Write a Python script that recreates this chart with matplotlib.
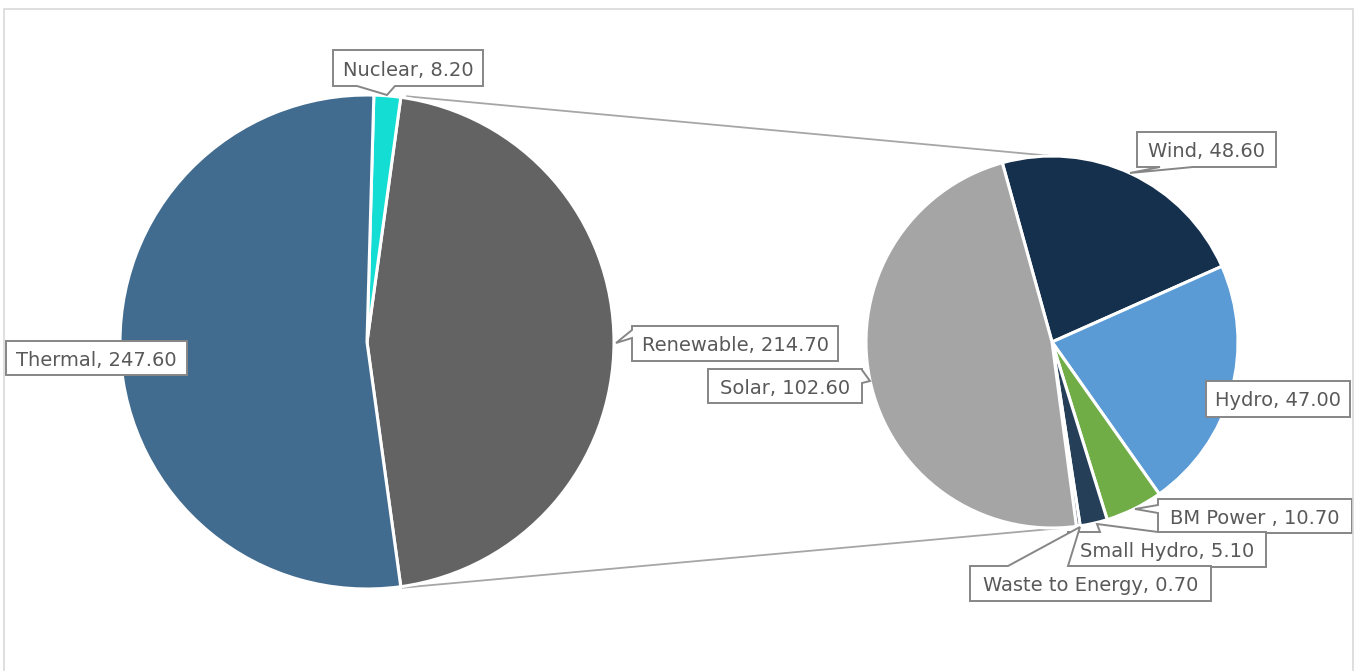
import matplotlib
matplotlib.use("Agg")
import matplotlib.pyplot as plt
from matplotlib.patches import Polygon, Rectangle
import numpy as np

# ---------------- data ----------------
main_categories = ["Thermal", "Nuclear", "Renewable"]
main_values = [247.60, 8.20, 214.70]
sub_categories = ["Wind", "Hydro", "BM Power ", "Small Hydro", "Waste to Energy", "Solar"]
sub_values = [48.60, 47.00, 10.70, 5.10, 0.70, 102.60]

main_colors = ["#426C8F", "#14DDD4", "#636363"]
sub_colors = ["#15304D", "#5B9BD5", "#70AD47", "#253F59", "#44546A", "#A5A5A5"]

W, H = 1357, 671
fig = plt.figure(figsize=(W / 100, H / 100), dpi=100)
ax = fig.add_axes([0, 0, 1, 1])

# geometry (pixel space, y up)
L_CX, L_CY, L_R = 367, H - 342, 247
R_CX, R_CY, R_R = 1052, H - 342, 186

# left pie: "other" slice (Renewable) centred at 3 o'clock
tot = sum(main_values)
ren_span = main_values[2] / tot * 360
order = [2, 1, 0]
ax.pie([main_values[i] for i in order], colors=[main_colors[i] for i in order],
       startangle=-ren_span / 2, counterclock=True, radius=L_R, center=(L_CX, L_CY),
       wedgeprops=dict(edgecolor="white", linewidth=2.2), frame=True)

ax.pie(sub_values, colors=sub_colors, startangle=105.5, counterclock=False,
       radius=R_R, center=(R_CX, R_CY),
       wedgeprops=dict(edgecolor="white", linewidth=2.2), frame=True)

# connector lines
a = np.deg2rad(ren_span / 2)
top_l = (L_CX + L_R * np.cos(a) + 6, L_CY + L_R * np.sin(a) + 1)
bot_l = (L_CX + L_R * np.cos(a) + 2, L_CY - L_R * np.sin(a) - 1)
ax.plot([top_l[0], R_CX], [top_l[1], R_CY + R_R], color="#A6A6A6", lw=1.3, zorder=0.5)
ax.plot([bot_l[0], R_CX + 10], [bot_l[1], R_CY - R_R], color="#A6A6A6", lw=1.3, zorder=0.5)

ax.set_xlim(0, W)
ax.set_ylim(0, H)
ax.set_aspect("equal")
ax.axis("off")

# frame
fig.patches.append(Rectangle((4 / W, -0.1), 1349 / W, (H - 9) / H + 0.1,
                             transform=fig.transFigure, fill=False,
                             edgecolor="#D9D9D9", lw=1.2))


def callout(box, side=None, base=None, tip=None):
    x0, y0, x1, y1 = box
    TL, TR, BR, BL = (x0, y0), (x1, y0), (x1, y1), (x0, y1)
    if side == "top":
        pts = [TL, (base[0], y0), tip, (base[1], y0), TR, BR, BL]
    elif side == "right":
        pts = [TL, TR, (x1, base[0]), tip, (x1, base[1]), BR, BL]
    elif side == "bottom":
        pts = [TL, TR, BR, (base[1], y1), tip, (base[0], y1), BL]
    elif side == "left":
        pts = [TL, TR, BR, BL, (x0, base[1]), tip, (x0, base[0])]
    else:
        pts = [TL, TR, BR, BL]
    pts = [(px, H - py) for px, py in pts]
    return Polygon(pts, closed=True, facecolor="white", edgecolor="#868686",
                   lw=1.4, joinstyle="miter", zorder=5)


labels = [
    (f"{main_categories[1]}, {main_values[1]:.2f}", (333, 50, 483, 86), "bottom", (357, 395), (387, 95)),
    (f"{main_categories[0]}, {main_values[0]:.2f}", (6, 341, 187, 375), None, None, None),
    (f"{main_categories[2]}, {main_values[2]:.2f}", (632, 326, 838, 361), "left", (330, 338), (616, 343)),
    (f"{sub_categories[5]}, {sub_values[5]:.2f}", (708, 369, 862, 403), "right", (370, 383), (870, 381)),
    (f"{sub_categories[0]}, {sub_values[0]:.2f}", (1137, 132, 1276, 167), "bottom", (1160, 1193), (1130, 173)),
    (f"{sub_categories[1]}, {sub_values[1]:.2f}", (1206, 381, 1350, 417), None, None, None),
    (f"{sub_categories[2]}, {sub_values[2]:.2f}", (1158, 499, 1352, 533), "left", (505, 513), (1135, 509)),
    (f"{sub_categories[3]}, {sub_values[3]:.2f}", (1068, 532, 1266, 567), "top", (1100, 1158), (1097, 524)),
    (f"{sub_categories[4]}, {sub_values[4]:.2f}", (970, 566, 1211, 601), "top", (1008, 1068), (1080, 527)),
]

for i, (txt, box, side, base, tip) in enumerate(labels):
    p = callout(box, side, base, tip)
    p.set_zorder(5 + i * 0.1)
    ax.add_patch(p)
    cx = (box[0] + box[2]) / 2
    cy = H - (box[1] + box[3]) / 2
    ax.text(cx, cy, txt, ha="center", va="center_baseline", fontsize=14,
            color="#595959", family="DejaVu Sans", zorder=5.05 + i * 0.1)

fig.savefig("out.png", dpi=100, facecolor="white")
